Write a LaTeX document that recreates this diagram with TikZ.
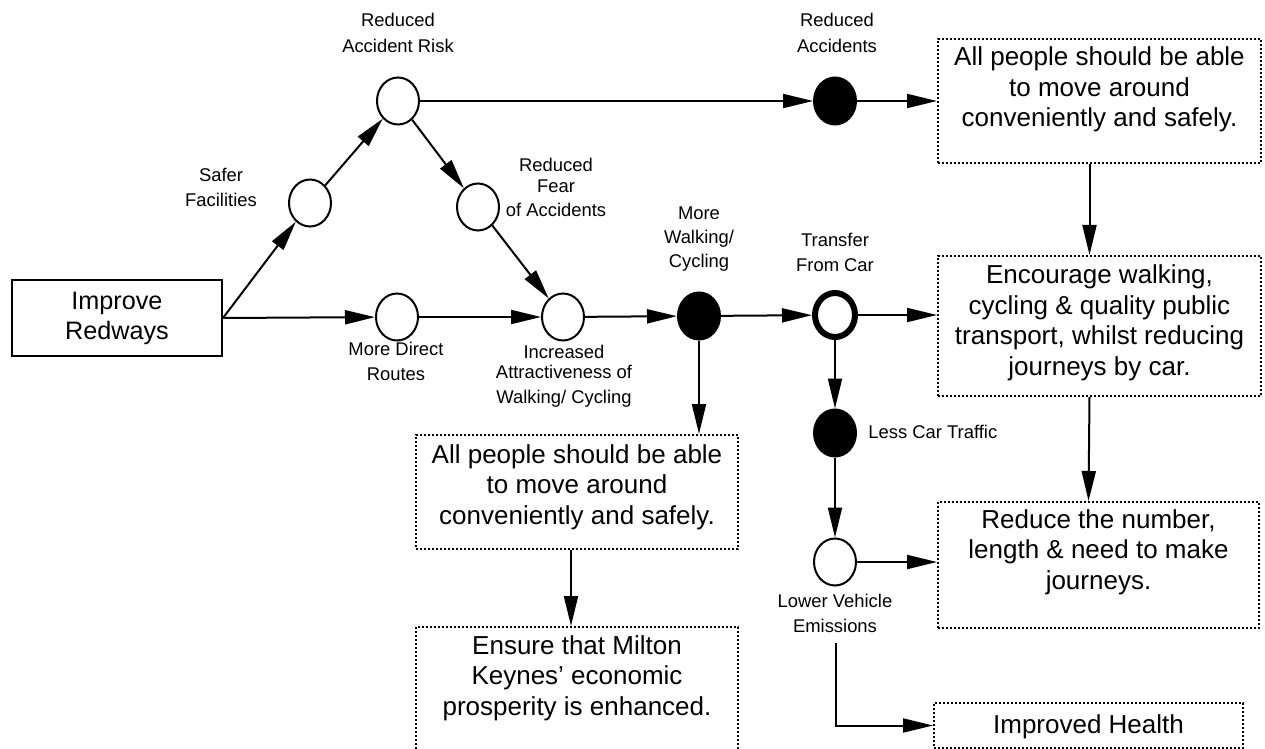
\documentclass[tikz,border=0pt]{standalone}
\usepackage{fontspec}
\setmainfont{Liberation Sans}
\usetikzlibrary{arrows.meta,shapes.geometric}
\begin{document}
\begin{tikzpicture}[x=0.5pt,y=-0.5pt,
  circ/.style={ellipse, draw, line width=1pt, minimum width=21pt, minimum height=23.5pt, inner sep=0pt},
  full/.style={circ, fill=black},
  thickc/.style={ellipse, draw, line width=3pt, minimum width=20pt, minimum height=22pt, inner sep=0pt},
  goal/.style={draw, dash pattern=on 1pt off 1pt, line width=1pt, inner sep=0pt, anchor=north west,
               font=\fontsize{13}{15.25}\selectfont},
  lbl/.style={inner sep=0pt, anchor=base, font=\fontsize{9.2}{12.5}\selectfont},
  arr/.style={-{Triangle[length=15pt,width=7pt]}, line width=1pt}
]
\useasboundingbox (0,0) rectangle (1265,749);
\clip (0,0) rectangle (1265,749);

% start box
\node[draw, line width=1pt, minimum width=105pt, minimum height=38pt, align=center,
      font=\fontsize{12.6}{15}\selectfont] (ir) at (117,318) {Improve\\Redways};

% circles
\node[circ]   (a) at (398,101) {};
\node[circ]   (b) at (310,203) {};
\node[circ]   (c) at (478,207) {};
\node[circ]   (d) at (397,317) {};
\node[circ]   (e) at (563,317) {};
\node[full]   (f) at (699,316) {};
\node[thickc] (g) at (835,315) {};
\node[full]   (h) at (835,101) {};
\node[full]   (i) at (835,433) {};
\node[circ]   (j) at (835,562) {};

% labels
\node[lbl] (la) at (398,27)  {\parbox[t]{3cm}{\centering Reduced\\[0.5pt]Accident Risk}};
\node[lbl] (lb) at (221,182) {\parbox[t]{3cm}{\centering Safer\\Facilities}};
\node[lbl] (lc) at (556,172) {\parbox[t]{3cm}{\centering Reduced\\[-2.5pt]Fear\\of Accidents}};
\node[lbl] (ld) at (396,355) {\parbox[t]{3cm}{\centering More Direct\\[0.5pt]Routes}};
\node[lbl] (le) at (564,358) {\parbox[t]{3cm}{\centering Increased\\[-2.5pt]Attractiveness of\\Walking/ Cycling}};
\node[lbl] (lf) at (699,220) {\parbox[t]{3cm}{\centering More\\[-0.5pt]Walking/\\[-0.5pt]Cycling}};
\node[lbl] (lg) at (835,247) {\parbox[t]{3cm}{\centering Transfer\\From Car}};
\node[lbl] (lh) at (837,27)  {\parbox[t]{3cm}{\centering Reduced\\[0.5pt]Accidents}};
\node[lbl, anchor=base west] (li) at (868,438) {Less Car Traffic};
\node[lbl] (lj) at (835,607) {\parbox[t]{3cm}{\centering Lower Vehicle\\Emissions}};

% goal boxes
\node[goal] (t1) at (937,38) {\parbox[t][62pt][t]{161.5pt}{\centering\rule{0pt}{13.5pt}All people should be able\\to move around\\conveniently and safely.}};
\node[goal] (t2) at (937,255) {\parbox[t][70pt][t]{161.5pt}{\centering\rule{0pt}{14pt}Encourage walking,\\cycling \& quality public\\transport, whilst reducing\\journeys by car.}};
\node[goal] (t3) at (937,501) {\parbox[t][63pt][t]{160.5pt}{\centering\rule{0pt}{13pt}Reduce the number,\\length \& need to make\\journeys.}};
\node[goal] (t4) at (933,702) {\parbox[t][22.5pt][t]{154.5pt}{\centering\rule{0pt}{15pt}Improved Health}};
\node[goal] (t5) at (415,434) {\parbox[t][57pt][t]{161pt}{\centering\rule{0pt}{14pt}All people should be able\\to move around\\conveniently and safely.}};
\node[goal] (t6) at (415,626) {\parbox[t][70pt][t]{161pt}{\centering\rule{0pt}{13.5pt}Ensure that Milton\\Keynes’ economic\\prosperity is enhanced.}};

\coordinate (jd) at (836,643);

% connectors
\draw[arr] (ir.east) -- (b);
\draw[arr] (ir.east) -- (d);
\draw[arr] (b) -- (a);
\draw[arr] (a) -- (c);
\draw[arr] (c) -- (e);
\draw[arr] (d) -- (e);
\draw[arr] (e) -- (f);
\draw[arr] (f) -- (g);
\draw[arr] (g) -- (g -| t2.west);
\draw[arr] (a) -- (h);
\draw[arr] (h) -- (h -| t1.west);
\draw[arr] ([xshift=-5pt]t1.south) -- ([xshift=-5pt]t2.north);
\draw[arr] ([xshift=-5pt]t2.south) -- ([xshift=-5pt]t3.north);
\draw[arr] (f) -- (f |- t5.north);
\draw[arr] ([xshift=-3pt]t5.south) -- ([xshift=-3pt]t6.north);
\draw[arr] (g) -- (i);
\draw[arr] (i) -- (j);
\draw[arr] (j) -- (j -| t3.west);
\draw[arr] (jd) |- (t4.west);
\end{tikzpicture}
\end{document}
